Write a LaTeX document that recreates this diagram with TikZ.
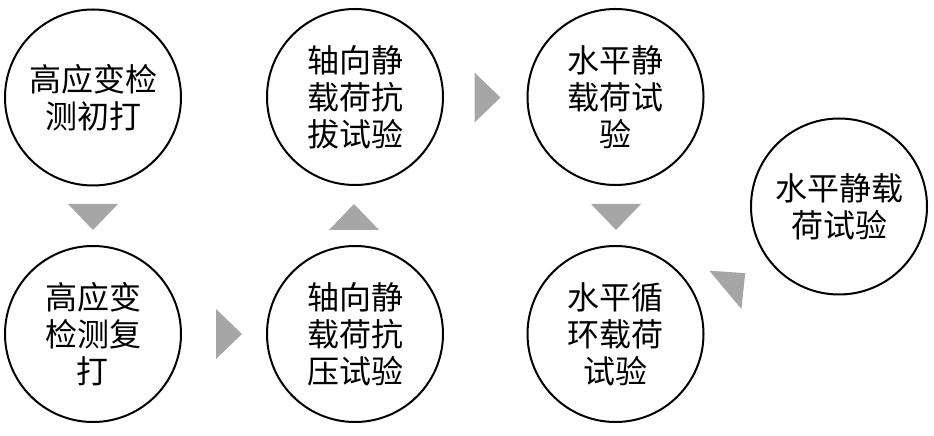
\documentclass[tikz,border=0pt]{standalone}
\usepackage{fontspec}
\setmainfont{Noto Sans CJK SC}
\usepackage{tikz}
\usetikzlibrary{positioning,
                shapes}

\definecolor{arrowgray}{RGB}{166,166,166}

\tikzset{flowarrow/.pic={
    \fill[arrowgray] (13,0) -- (-13,25) -- (-13,-25) -- cycle;
}}

\begin{document}
\begin{tikzpicture}[x=1pt, y=1pt]

\useasboundingbox (0,0) rectangle (934,436);

\begin{scope}[ res/.style = {circle, draw, line width=2pt, minimum size=176pt, inner sep=0pt, align=center, font=\fontsize{32}{37}\selectfont}]
    \node[res] (1) at (93, 338.5) {高应变检\\测初打};
    \node[res] (2) at (93, 102) {高应变\\检测复\\打};
    \node[res] (3) at (355, 339) {轴向静\\载荷抗\\拔试验};
    \node[res] (4) at (355, 102) {轴向静\\载荷抗\\压试验};
    \node[res] (5) at (615.5, 339) {水平静\\载荷试\\验};
    \node[res] (6) at (615.5, 102) {水平循\\环载荷\\试验};
    \node[res] (7) at (839, 229.5) {水平静载\\荷试验};
\end{scope}

% gray triangles between the steps
\begin{scope}
    \pic[rotate=-90] at (93, 219) {flowarrow};
    \pic at (229, 102) {flowarrow};
    \pic[rotate=90] at (354, 219) {flowarrow};
    \pic at (487.5, 338.5) {flowarrow};
    \pic[rotate=-90] at (616, 219) {flowarrow};
    \pic[rotate=40] at (735.3, 154.5) {flowarrow};
\end{scope}

\end{tikzpicture}
\end{document}
